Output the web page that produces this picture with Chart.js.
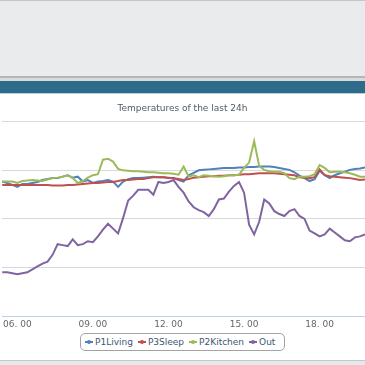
<!DOCTYPE html>
<html>
<head>
<meta charset="utf-8">
<script src="https://cdn.jsdelivr.net/npm/chart.js@4"></script>
<style>
  html, body { margin: 0; padding: 0; }
  body { width: 365px; height: 365px; overflow: hidden; position: relative; background: #fff;
         font-family: "DejaVu Sans", sans-serif; }
  .band { position: absolute; left: 0; width: 365px; }
  #wrap { position: absolute; left: 0; top: 94px; width: 365px; height: 240px; }
  #legend { position: absolute; left: 80px; top: 333px; width: 199px; height: 16px;
            border: 1px solid #a3a3a3; border-radius: 5px; display: flex; align-items: center;
            padding-left: 4px; font-size: 9px; color: #3e576f; background: #fff; }
  .item { display: flex; align-items: center; margin-right: 5px; white-space: nowrap; }
  .sym { position: relative; width: 8px; height: 2px; margin-right: 2px; }
  .sym i { position: absolute; left: 2px; top: -1px; width: 4px; height: 4px; border-radius: 2px; }
</style>
</head>
<body>
<div class="band" style="top:0;height:76px;background:#eaebed;border-top:1px solid #c6c6c6;box-sizing:border-box"></div>
<div class="band" style="top:76px;height:2px;background:#b6b6b6"></div>
<div class="band" style="top:78px;height:3px;background:#d9dadb"></div>
<div class="band" style="top:81px;height:12px;background:#2e6a8a"></div>
<div class="band" style="top:93px;height:1px;background:#b9cfdc"></div>
<div class="band" style="top:360px;height:1px;background:#c3c8cc"></div>
<div class="band" style="top:361px;height:4px;background:#e6e8ea"></div>

<div id="wrap"><canvas id="chart" width="365" height="240"></canvas></div>
<div id="legend"></div>

<script>
// ─── Data ─────────────────────────────────────────────────────────────────────

const times = ["05:24","05:36","05:48",
    "06:00","06:12","06:24","06:36","06:48","07:00","07:12","07:24","07:36","07:48",
    "08:00","08:12","08:24","08:36","08:48","09:00","09:12","09:24","09:36","09:48",
    "10:00","10:12","10:24","10:36","10:48","11:00","11:12","11:24","11:36","11:48",
    "12:00","12:12","12:24","12:36","12:48","13:00","13:12","13:24","13:36","13:48",
    "14:00","14:12","14:24","14:36","14:48","15:00","15:12","15:24","15:36","15:48",
    "16:00","16:12","16:24","16:36","16:48","17:00","17:12","17:24","17:36","17:48",
    "18:00","18:12","18:24","18:36","18:48","19:00","19:12","19:24","19:36","19:48"];

const tickTimes = ["06:00", "09:00", "12:00", "15:00", "18:00"];
const tickLabels = ["06. 00", "09. 00", "12. 00", "15. 00", "18. 00"];

const seriesNames = ["P1Living", "P3Sleep", "P2Kitchen", "Out"];
const seriesColors = ["#4f81bd", "#c0504d", "#9bbb59", "#8064a2"];

const p1Living = [18.85,18.7,18.5,18.3,18.6,18.6,18.7,18.8,19.0,19.1,
    19.2,19.2,19.35,19.5,19.25,19.35,18.85,19.0,18.7,18.85,
    18.9,19.0,18.85,18.3,18.85,19.1,19.2,19.2,19.25,19.3,
    19.35,19.3,19.3,19.2,19.2,19.0,18.85,19.5,19.75,20.0,
    20.05,20.1,20.15,20.2,20.25,20.25,20.25,20.3,20.3,20.35,
    20.35,20.4,20.4,20.4,20.35,20.25,20.15,20.05,19.8,19.45,
    19.2,18.9,19.1,19.95,19.5,19.2,19.5,19.7,19.85,20.05,
    20.15,20.2,20.3];

const p3Sleep = [18.5,18.5,18.5,18.5,18.5,18.5,18.5,18.5,18.5,18.5,
    18.45,18.45,18.45,18.5,18.5,18.55,18.6,18.65,18.7,18.7,
    18.75,18.8,18.8,18.9,19.0,19.0,19.05,19.1,19.1,19.2,
    19.3,19.3,19.3,19.25,19.2,19.1,19.0,19.1,19.25,19.3,
    19.35,19.4,19.4,19.45,19.45,19.5,19.5,19.55,19.6,19.6,
    19.65,19.7,19.7,19.7,19.7,19.65,19.6,19.55,19.5,19.3,
    19.25,19.2,19.3,20.1,19.5,19.4,19.35,19.3,19.25,19.2,
    19.1,19.0,19.05];

const p2Kitchen = [18.85,18.85,18.85,18.7,18.9,18.95,19.0,18.95,18.9,19.05,
    19.2,19.25,19.35,19.5,19.2,18.7,18.9,19.25,19.5,19.6,
    21.1,21.2,20.9,20.15,20.0,19.95,19.9,19.9,19.85,19.8,
    19.8,19.75,19.7,19.7,19.65,19.55,20.4,19.35,19.5,19.3,
    19.5,19.45,19.4,19.35,19.4,19.5,19.5,19.55,20.25,20.8,
    23.0,20.45,20.05,19.9,19.85,19.85,19.7,19.2,19.1,19.35,
    19.35,19.4,19.6,20.55,20.25,19.8,19.85,19.85,19.8,19.7,
    19.55,19.35,19.35];

const out = [9.5,9.5,9.4,9.3,9.4,9.5,9.8,10.1,10.4,10.6,
    11.3,12.4,12.3,12.2,12.9,12.3,12.4,12.7,12.6,13.2,
    13.9,14.5,14.0,13.5,15.1,16.9,17.4,18.0,18.0,18.0,
    17.5,18.8,18.7,18.8,19.0,18.3,17.7,16.8,16.2,15.9,
    15.7,15.3,16.0,17.0,17.1,17.8,18.4,18.8,17.7,14.4,
    13.4,14.7,17.0,16.6,15.8,15.5,15.3,15.8,16.0,15.3,
    15.0,13.8,13.5,13.2,13.4,14.0,13.6,13.2,12.8,12.7,
    13.1,13.2,13.4];

const seriesData = [p1Living, p3Sleep, p2Kitchen, out];

// ─── Chart ────────────────────────────────────────────────────────────────────

const FONT = "'DejaVu Sans', sans-serif";

const datasets = seriesNames.map((name, i) => ({
    label: name,
    data: seriesData[i],
    borderColor: seriesColors[i],
    backgroundColor: seriesColors[i],
    borderWidth: 2,
    pointRadius: 0,
    tension: 0,
    fill: false,
    // later series sit on top, like the original
    order: seriesNames.length - i,
}));

new Chart(document.getElementById("chart"), {
    type: "line",
    data: { labels: times, datasets },
    options: {
        responsive: false,
        animation: false,
        layout: { padding: 0 },
        plugins: {
            legend: { display: false },
            tooltip: { enabled: false },
            title: {
                display: true,
                text: "Temperatures of the last 24h",
                color: "#4f5b66",
                font: { size: 9, family: FONT, weight: "normal" },
                padding: { top: 9, bottom: 8 },
            },
        },
        scales: {
            x: {
                type: "category",
                offset: false,
                // no tick marks: drawTicks off so labels sit right under the axis line
                grid: { display: false, drawTicks: false },
                border: { display: true, color: "#c0d0e0", width: 1 },
                afterBuildTicks: (scale) => {
                    scale.ticks = scale.ticks.filter(t => tickTimes.includes(times[t.value]));
                },
                afterFit: (scale) => { scale.height = 18; },
                ticks: {
                    autoSkip: false,
                    maxRotation: 0,
                    padding: 3,
                    color: "#666666",
                    font: { size: 9, family: FONT },
                    callback: function (value) {
                        const k = tickTimes.indexOf(this.getLabelForValue(value));
                        return k >= 0 ? tickLabels[k] : "";
                    },
                },
            },
            y: {
                min: 5,
                max: 25,
                grid: { color: "#d9d9d9", drawTicks: false },
                border: { display: false },
                afterFit: (scale) => { scale.width = 0; },
                ticks: { display: false, stepSize: 5 },
            },
        },
    },
});

// ─── Legend ───────────────────────────────────────────────────────────────────

const legend = document.getElementById("legend");
seriesNames.forEach((name, i) => {
    const item = document.createElement("div");
    item.className = "item";
    item.innerHTML = `<span class="sym" style="background:${seriesColors[i]}"><i style="background:${seriesColors[i]}"></i></span><span>${name}</span>`;
    legend.appendChild(item);
});
</script>
</body>
</html>
